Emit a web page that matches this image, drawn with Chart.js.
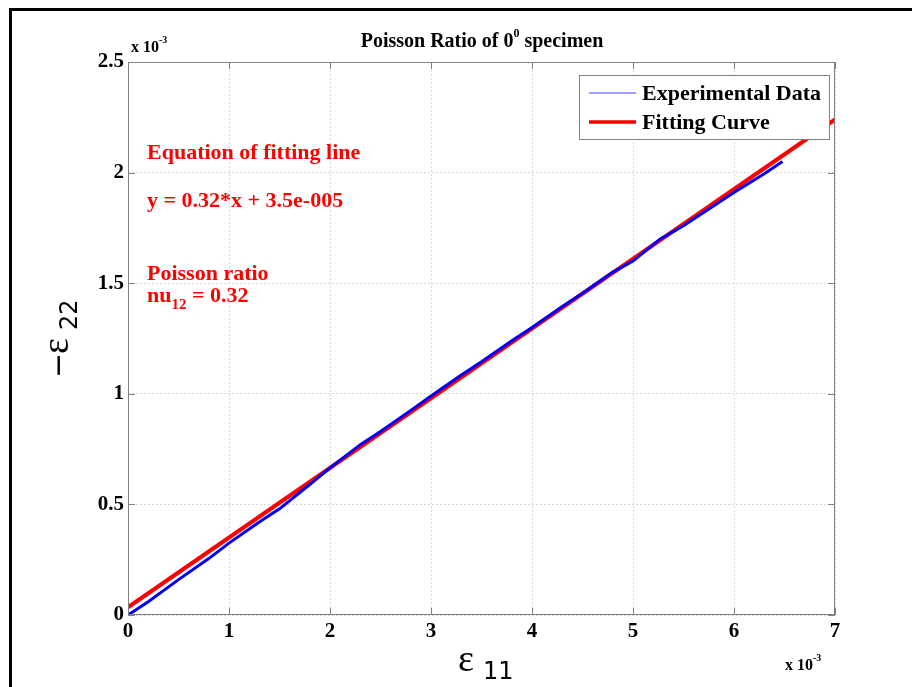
<!DOCTYPE html>
<html>
<head>
<meta charset="utf-8">
<script src="https://cdn.jsdelivr.net/npm/chart.js@4"></script>
<style>
  body { margin: 0; background: #fff; }
  canvas { display: block; }
</style>
</head>
<body>
<canvas id="chart" width="912" height="687"></canvas>
<script>
// values in units of 10^-3
const expX = [0, 0.2, 0.5, 0.8, 1.0, 1.3, 1.5, 1.8, 2.0, 2.3, 2.5, 2.8, 3.0, 3.3, 3.5, 3.8, 4.0, 4.3, 4.5, 4.8, 5.0, 5.27, 5.5, 5.8, 6.0, 6.3, 6.48];
const expY = [0, 0.06, 0.16, 0.255, 0.325, 0.42, 0.48, 0.59, 0.665, 0.77, 0.83, 0.925, 0.99, 1.085, 1.145, 1.24, 1.30, 1.395, 1.455, 1.55, 1.60, 1.70, 1.76, 1.85, 1.91, 1.995, 2.05];
const fitX = [0, 7];
const fitY = [0.035, 2.24];
const xTicks = [0, 1, 2, 3, 4, 5, 6, 7];
const yTicks = [0, 0.5, 1, 1.5, 2, 2.5];

const serif = '"Liberation Serif", "Times New Roman", serif';

const extras = {
  id: 'extras',
  afterDatasetsDraw(chart) {
    const ctx = chart.ctx;
    const a = chart.chartArea;
    const xs = chart.scales.x, ys = chart.scales.y;
    ctx.save();

    // axes box and inward ticks
    ctx.strokeStyle = '#808080';
    ctx.lineWidth = 1;
    ctx.strokeRect(a.left + 0.5, a.top + 0.5, a.right - a.left - 1, a.bottom - a.top - 1);
    ctx.beginPath();
    xTicks.forEach(v => {
      const px = Math.round(xs.getPixelForValue(v)) + 0.5;
      ctx.moveTo(px, a.bottom); ctx.lineTo(px, a.bottom - 7);
      ctx.moveTo(px, a.top); ctx.lineTo(px, a.top + 7);
    });
    yTicks.forEach(v => {
      const py = Math.round(ys.getPixelForValue(v)) + 0.5;
      ctx.moveTo(a.left, py); ctx.lineTo(a.left + 7, py);
      ctx.moveTo(a.right, py); ctx.lineTo(a.right - 7, py);
    });
    ctx.stroke();

    // legend
    const lx = 579, ly = 75, lw = 250, lh = 64;
    ctx.fillStyle = '#fff';
    ctx.fillRect(lx, ly, lw, lh);
    ctx.strokeStyle = '#808080';
    ctx.strokeRect(lx + 0.5, ly + 0.5, lw, lh);
    ctx.lineCap = 'butt';
    ctx.strokeStyle = '#7f7fff';
    ctx.lineWidth = 1.5;
    ctx.beginPath(); ctx.moveTo(589, 93); ctx.lineTo(636, 93); ctx.stroke();
    ctx.strokeStyle = '#ff0000';
    ctx.lineWidth = 3.5;
    ctx.beginPath(); ctx.moveTo(589, 122); ctx.lineTo(636, 122); ctx.stroke();
    ctx.fillStyle = '#000';
    ctx.font = 'bold 22px ' + serif;
    ctx.textBaseline = 'middle';
    ctx.textAlign = 'left';
    ctx.fillText('Experimental Data', 642, 94);
    ctx.fillText('Fitting Curve', 642, 123);

    // annotations
    ctx.fillStyle = '#ff0000';
    ctx.font = 'bold 22px ' + serif;
    ctx.fillText('Equation of fitting line', 147, 153);
    ctx.fillText('y = 0.32*x + 3.5e-005', 147, 201);
    ctx.fillText('Poisson ratio', 147, 274);
    ctx.fillText('nu', 147, 296);
    let w = ctx.measureText('nu').width;
    ctx.font = 'bold 15px ' + serif;
    ctx.fillText('12', 147 + w, 305);
    w += ctx.measureText('12').width;
    ctx.font = 'bold 22px ' + serif;
    ctx.fillText(' = 0.32', 147 + w, 296);
    ctx.restore();
  },
  afterDraw(chart) {
    const ctx = chart.ctx;
    ctx.save();
    // outer frame
    ctx.fillStyle = '#000';
    ctx.fillRect(9, 8, 903, 3);
    ctx.fillRect(9, 8, 3, 679);

    // title
    ctx.textBaseline = 'alphabetic';
    ctx.textAlign = 'left';
    const t1 = 'Poisson Ratio of 0', t2 = ' specimen', sup = '0';
    ctx.font = 'bold 20px ' + serif;
    const w1 = ctx.measureText(t1).width;
    const w2 = ctx.measureText(t2).width;
    ctx.font = 'bold 12px ' + serif;
    const ws = ctx.measureText(sup).width;
    const x0 = 482 - (w1 + ws + w2) / 2;
    ctx.font = 'bold 20px ' + serif;
    ctx.fillText(t1, x0, 47);
    ctx.fillText(t2, x0 + w1 + ws, 47);
    ctx.font = 'bold 12px ' + serif;
    ctx.fillText(sup, x0 + w1, 37);

    // exponent labels
    const expo = (x, y) => {
      ctx.font = 'bold 16px ' + serif;
      ctx.fillText('x 10', x, y);
      const w = ctx.measureText('x 10').width;
      ctx.font = 'bold 10px ' + serif;
      ctx.fillText('-3', x + w, y - 9);
    };
    expo(131, 52);
    expo(785, 670);

    // axis labels
    ctx.font = '38px ' + serif;
    ctx.fillText('\u03b5', 458, 671);
    ctx.font = '24px "DejaVu Sans", sans-serif';
    ctx.fillText('11', 483, 679);

    ctx.translate(68, 332);
    ctx.rotate(-Math.PI / 2);
    ctx.font = '30px "DejaVu Sans", sans-serif';
    ctx.fillText('\u2212', -46, 0);
    ctx.font = '38px ' + serif;
    ctx.fillText('\u03b5', -22, 0);
    ctx.font = '24px "DejaVu Sans", sans-serif';
    ctx.fillText('22', 2, 9);
    ctx.restore();
  }
};

new Chart(document.getElementById('chart'), {
  type: 'line',
  data: {
    datasets: [
      {
        label: 'Experimental Data',
        data: expX.map((x, i) => ({ x: x, y: expY[i] })),
        borderColor: '#0000ff',
        borderWidth: 3,
        pointRadius: 0,
        tension: 0
      },
      {
        label: 'Fitting Curve',
        data: fitX.map((x, i) => ({ x: x, y: fitY[i] })),
        borderColor: '#ff0000',
        borderWidth: 4,
        pointRadius: 0
      }
    ]
  },
  options: {
    responsive: false,
    animation: false,
    devicePixelRatio: 1,
    layout: { padding: { left: 0, top: 62, right: 77, bottom: 0 } },
    plugins: { legend: { display: false }, tooltip: { enabled: false } },
    scales: {
      x: {
        type: 'linear',
        min: 0, max: 7,
        afterFit: s => { s.height = 72; },
        afterBuildTicks: s => { s.ticks = xTicks.map(v => ({ value: v })); },
        ticks: {
          color: '#000',
          padding: 4,
          font: { family: serif, size: 21, weight: 'bold' },
          callback: v => String(v)
        },
        grid: { color: '#d8d8d8', drawTicks: false },
        border: { display: false, dash: [2, 2] }
      },
      y: {
        type: 'linear',
        min: 0, max: 2.5,
        afterFit: s => { s.width = 128; },
        afterBuildTicks: s => { s.ticks = yTicks.map(v => ({ value: v })); },
        ticks: {
          color: '#000',
          padding: 4,
          font: { family: serif, size: 21, weight: 'bold' },
          callback: v => String(v)
        },
        grid: { color: '#d8d8d8', drawTicks: false },
        border: { display: false, dash: [2, 2] }
      }
    }
  },
  plugins: [extras]
});
</script>
</body>
</html>
